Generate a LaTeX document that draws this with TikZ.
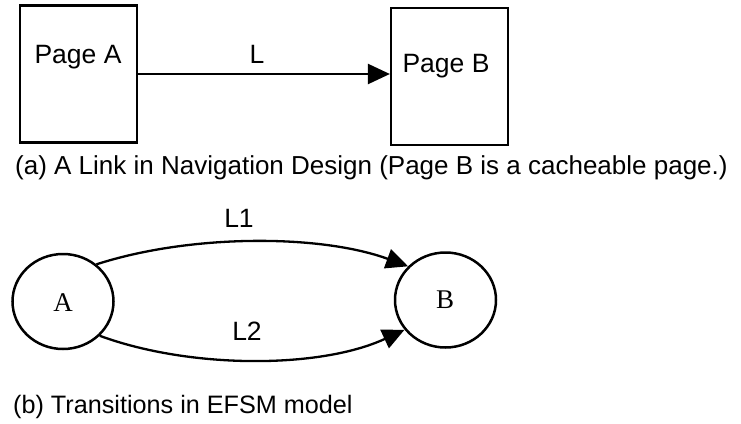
\documentclass[tikz,border=0pt]{standalone}
\usepackage{fontspec}
\setmainfont{Liberation Sans}
\newfontfamily\serifface{Liberation Serif}
\usetikzlibrary{arrows.meta,shapes.geometric}
\begin{document}
\begin{tikzpicture}[x=1pt,y=-1pt,
  pagebox/.style={draw,line width=2.2pt,rectangle,inner sep=0pt,minimum width=117pt,minimum height=137pt},
  statenode/.style={draw,line width=2.5pt,ellipse,inner sep=0pt,minimum width=101pt,minimum height=95pt},
  lbl/.style={inner sep=0pt,anchor=base,font=\fontsize{26.5}{30}\selectfont},
  captext/.style={inner sep=0pt,anchor=base west,font=\fontsize{26}{30}\selectfont},
  slbl/.style={inner sep=0pt,anchor=base,font=\serifface\fontsize{27}{30}\selectfont},
  arr/.style={line width=2.3pt,-{Triangle[length=22pt,width=20pt]}}]
\useasboundingbox (0,0) rectangle (741,423);
% (a)
\node[pagebox] (boxA) at (78.5,74) {};
\node[pagebox] (boxB) at (449.5,76.5) {};
\node[lbl] (txtA) at (78,63) {Page A};
\node[lbl] (txtB) at (446,72) {Page B};
\draw[arr] (boxA.east) -- (boxA.east -| boxB.west);
\node[lbl] (lblL) at (257,63) {L};
\node[captext] (capA) at (15,174) {(a) A Link in Navigation Design (Page B is a cacheable page.)};
% (b)
\node[statenode] (A) at (63,301.5) {};
\node[statenode] (B) at (445.5,300) {};
\node[slbl] (txtSA) at (63,311) {A};
\node[slbl] (txtSB) at (445,308) {B};
\draw[arr] (A.48) .. controls (190,234) and (320,234) .. (B.138);
\draw[arr] (A.-43) .. controls (190,369) and (320,369) .. (B.-144);
\node[lbl] (lblL1) at (239,227) {L1};
\node[lbl] (lblL2) at (247,340) {L2};
\node[captext,font=\fontsize{25.2}{30}\selectfont] (capB) at (13,413) {(b) Transitions in EFSM model};
\end{tikzpicture}
\end{document}
